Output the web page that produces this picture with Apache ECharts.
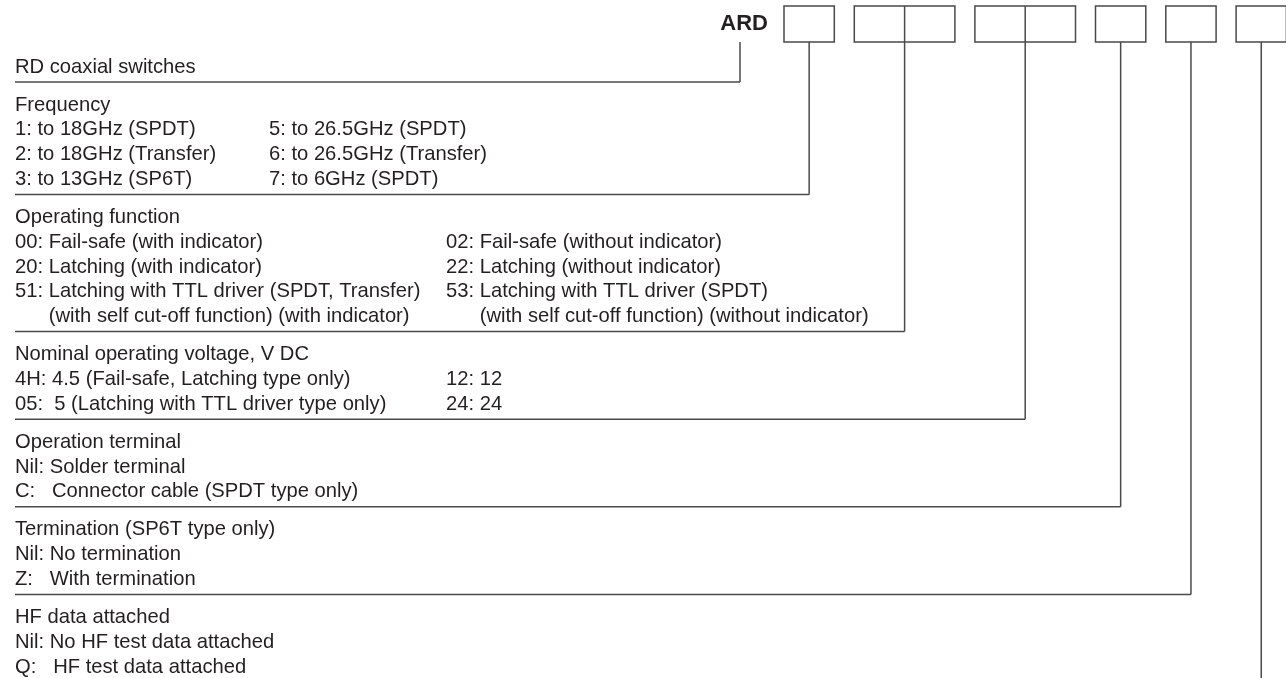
<!DOCTYPE html>
<html>
<head>
<meta charset="utf-8">
<script src="https://cdn.jsdelivr.net/npm/echarts@6/dist/echarts.min.js"></script>
<style>
html,body{margin:0;padding:0;background:#fff;}
#c{width:1286px;height:678px;}
</style>
</head>
<body>
<div id="c"></div>
<script>
// ---- content ----
const codePrefix = 'ARD';
const codeCells = [1, 2, 2, 1, 1, 1];
const sectionTitles = [
  'RD coaxial switches',
  'Frequency',
  'Operating function',
  'Nominal operating voltage, V DC',
  'Operation terminal',
  'Termination (SP6T type only)',
  'HF data attached'
];
const rdRows = [];
const frequencyRows = [
  ['1: to 18GHz (SPDT)', '5: to 26.5GHz (SPDT)'],
  ['2: to 18GHz (Transfer)', '6: to 26.5GHz (Transfer)'],
  ['3: to 13GHz (SP6T)', '7: to 6GHz (SPDT)']
];
const functionRows = [
  ['00: Fail-safe (with indicator)', '02: Fail-safe (without indicator)'],
  ['20: Latching (with indicator)', '22: Latching (without indicator)'],
  ['51: Latching with TTL driver (SPDT, Transfer)', '53: Latching with TTL driver (SPDT)'],
  ['(with self cut-off function) (with indicator)', '(with self cut-off function) (without indicator)']
];
const voltageRows = [
  ['4H: 4.5 (Fail-safe, Latching type only)', '12: 12'],
  ['05:  5 (Latching with TTL driver type only)', '24: 24']
];
const terminalRows = [
  ['Nil: Solder terminal'],
  ['C:   Connector cable (SPDT type only)']
];
const terminationRows = [
  ['Nil: No termination'],
  ['Z:   With termination']
];
const hfRows = [
  ['Nil: No HF test data attached'],
  ['Q:   HF test data attached']
];
const sectionRows = [rdRows, frequencyRows, functionRows, voltageRows, terminalRows, terminationRows, hfRows];

// ---- layout (style constants, not data) ----
const W = 1286, H = 678;
const FONT = '20.2px "Liberation Sans", Arial, sans-serif';
const BOLD = 'bold 22px "Liberation Sans", Arial, sans-serif';
const TEXT_COLOR = '#231f20';
const LINE_COLOR = '#4a4a4a';
const leftX = 15;
const secondColX = [0, 269, 446, 446, 0, 0, 0];
const rowStep = 24.8, headGap = 23, tailGap = 15, firstRowY = 67;
const boxTop = 6, boxBottom = 42, boxStart = 784, cellW = 50.3, boxGap = 20;
const ardRight = 768, ardLeader = 740;

const ctx = document.createElement('canvas').getContext('2d');
ctx.font = FONT;
function tw(s) { return ctx.measureText(s).width; }

const elements = [];
// code boxes
let bx = boxStart;
const leaderX = [ardLeader];
codeCells.forEach(n => {
  const w = n * cellW;
  elements.push({kind: 'rect', x: bx, y: boxTop, w: w, h: boxBottom - boxTop});
  for (let k = 1; k < n; k++) {
    elements.push({kind: 'line', x1: bx + k * cellW, y1: boxTop, x2: bx + k * cellW, y2: boxBottom});
  }
  leaderX.push(bx + w / 2);
  bx += w + boxGap;
});
elements.push({kind: 'text', x: ardRight, y: (boxTop + boxBottom) / 2, text: codePrefix, font: BOLD, align: 'right'});

// sections
let lineY = null;
sectionTitles.forEach((title, si) => {
  let y = lineY === null ? firstRowY : lineY + headGap;
  elements.push({kind: 'text', x: leftX, y: y, text: title, font: FONT, align: 'left'});
  let prev = null;
  sectionRows[si].forEach(row => {
    y += rowStep;
    row.forEach((txt, ci) => {
      let x = ci === 0 ? leftX : secondColX[si];
      if (txt.charAt(0) === '(' && prev) {
        const code = prev[ci].split(' ')[0] + ' ';
        x += tw(code);
      }
      elements.push({kind: 'text', x: x, y: y, text: txt, font: FONT, align: 'left'});
    });
    prev = row;
  });
  const lx = leaderX[si];
  if (si < sectionTitles.length - 1) {
    lineY = y + tailGap;
    elements.push({kind: 'line', x1: leftX, y1: lineY, x2: lx, y2: lineY});
    elements.push({kind: 'line', x1: lx, y1: boxBottom, x2: lx, y2: lineY});
  } else {
    elements.push({kind: 'line', x1: lx, y1: boxBottom, x2: lx, y2: H});
  }
});

const chart = echarts.init(document.getElementById('c'), null, {renderer: 'canvas'});
chart.setOption({
  animation: false,
  backgroundColor: '#ffffff',
  grid: {left: 0, right: 0, top: 0, bottom: 0},
  xAxis: {type: 'value', min: 0, max: W, show: false},
  yAxis: {type: 'value', min: 0, max: H, inverse: true, show: false},
  series: [{
    type: 'custom',
    coordinateSystem: 'cartesian2d',
    clip: false,
    silent: true,
    data: elements.map((e, i) => [i]),
    renderItem: function (params, api) {
      const e = elements[params.dataIndex];
      if (e.kind === 'line') {
        const p1 = api.coord([e.x1, e.y1]), p2 = api.coord([e.x2, e.y2]);
        return {type: 'line', shape: {x1: p1[0], y1: p1[1], x2: p2[0], y2: p2[1]},
          style: {stroke: LINE_COLOR, lineWidth: 1.5}};
      }
      if (e.kind === 'rect') {
        const p = api.coord([e.x, e.y]), q = api.coord([e.x + e.w, e.y + e.h]);
        return {type: 'rect', shape: {x: p[0], y: p[1], width: q[0] - p[0], height: q[1] - p[1]},
          style: {fill: 'none', stroke: LINE_COLOR, lineWidth: 1.5}};
      }
      const p = api.coord([e.x, e.y]);
      return {type: 'text', x: p[0], y: p[1],
        style: {text: e.text, font: e.font, fill: TEXT_COLOR, align: e.align, verticalAlign: 'middle'}};
    }
  }]
});
</script>
</body>
</html>
